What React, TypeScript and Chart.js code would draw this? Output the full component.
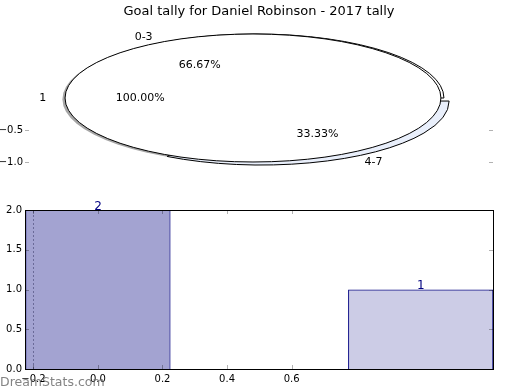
import { useEffect, useRef } from 'react';
import { Chart, registerables } from 'chart.js';

Chart.register(...registerables);

// ---- data ----
const chartTitle = 'Goal tally for Daniel Robinson - 2017 tally';
const pieLabels = ['0-3', '4-7'];
const pieValues = [2, 1];
const pieExplode = [0, 0.055];
const pieColors = ['#ffffff', '#e9effb'];
const totalLabels = ['1'];
const totalValues = [1];
const topYTicks = [-0.5, -1.0];
const barX = [0, 1];
const barValues = [2, 1];
const barAlphas = [0.36, 0.2];
const barXTicks = [-0.2, 0.0, 0.2, 0.4, 0.6];
const barYTicks = [0.0, 0.5, 1.0, 1.5, 2.0];
const watermark = 'DreamStats.com';

// ---- style ----
const FONT = '"DejaVu Sans", sans-serif';
const TICK_COLOR = 'rgba(0,0,0,0.3)';
const fmt = (v: number) => v.toFixed(1).replace('-', '\u2212');
const TOP_X = [-1.213, 1.277];
const TOP_Y = [-1.219, 1.125];
const BAR_XR = [-0.226, 1.224];
const PIE_B_SHIFT = 0.016; // horizontal offset of the two-slice pie

function slices(values: number[]) {
  const total = values.reduce((a, b) => a + b, 0);
  let cum = 0;
  return values.map((v) => {
    const t1 = (cum / total) * Math.PI * 2;
    cum += v;
    const t2 = (cum / total) * Math.PI * 2;
    return { t1, t2, mid: (t1 + t2) / 2, pct: (v / total) * 100 };
  });
}

const piePlugin = {
  id: 'ellipsePie',
  afterDatasetsDraw(chart: any) {
    const { ctx } = chart;
    const xs = chart.scales.x;
    const ys = chart.scales.y;
    const px = (v: number) => xs.getPixelForValue(v);
    const py = (v: number) => ys.getPixelForValue(v);
    const cx = px(0);
    const cy = py(0);
    const rx = px(1) - cx;
    const ry = cy - py(1);

    const wedgePath = (ox: number, oy: number, t1: number, t2: number, full: boolean) => {
      const ccx = px(ox);
      const ccy = py(oy);
      ctx.beginPath();
      if (full) {
        ctx.ellipse(ccx, ccy, rx, ry, 0, 0, Math.PI * 2);
      } else {
        ctx.moveTo(ccx, ccy);
        ctx.ellipse(ccx, ccy, rx, ry, 0, -t1, -t2, true);
        ctx.closePath();
      }
    };

    ctx.save();
    ctx.lineWidth = 1;
    ctx.strokeStyle = '#000';

    // shadow
    wedgePath(-0.014, -0.02, 0, Math.PI * 2, true);
    ctx.fillStyle = 'rgba(0,0,0,0.35)';
    ctx.fill();

    // two-slice pie
    const sl = slices(pieValues);
    for (let i = sl.length - 1; i >= 0; i--) {
      const s = sl[i];
      const e = pieExplode[i];
      const ox = e * Math.cos(s.mid) + PIE_B_SHIFT;
      const oy = e * Math.sin(s.mid);
      wedgePath(ox, oy, s.t1, s.t2, false);
      ctx.fillStyle = pieColors[i];
      ctx.fill();
      ctx.stroke();
    }

    // single-slice pie on top
    const tl = slices(totalValues);
    tl.forEach(() => {
      wedgePath(0, 0, 0, Math.PI * 2, true);
      ctx.fillStyle = '#ffffff';
      ctx.fill();
      ctx.stroke();
    });

    // labels
    ctx.font = `11px ${FONT}`;
    ctx.fillStyle = '#000';
    ctx.textBaseline = 'middle';
    const drawLabels = (labels: string[], ss: any[], explode: number[], shift: number) => {
      ss.forEach((s, i) => {
        const e = explode[i] || 0;
        const c = Math.cos(s.mid);
        const sn = Math.sin(s.mid);
        const lx = px((1.1 + e) * c + shift);
        const ly = py((1.1 + e) * sn);
        ctx.textAlign = c < 0 ? 'right' : 'left';
        ctx.fillText(labels[i], lx, ly);
        ctx.textAlign = 'center';
        ctx.fillText(s.pct.toFixed(2) + '%', px((0.6 + e) * c + shift), py((0.6 + e) * sn));
      });
    };
    drawLabels(pieLabels, sl, pieExplode, PIE_B_SHIFT);
    drawLabels(totalLabels, tl, [], 0);
    ctx.restore();
  },
  afterDraw(chart: any) {
    const { ctx, chartArea } = chart;
    const ys = chart.scales.y;
    ctx.save();
    ctx.font = `13px ${FONT}`;
    ctx.fillStyle = '#000';
    ctx.textAlign = 'center';
    ctx.textBaseline = 'alphabetic';
    ctx.fillText(chartTitle, (chartArea.left + chartArea.right) / 2, 15);
    ctx.strokeStyle = TICK_COLOR;
    ctx.lineWidth = 1;
    const l = Math.round(chartArea.left);
    const r = Math.round(chartArea.right);
    topYTicks.forEach((v) => {
      const y = Math.round(ys.getPixelForValue(v)) + 0.5;
      ctx.beginPath();
      ctx.moveTo(l, y);
      ctx.lineTo(l + 4, y);
      ctx.moveTo(r - 4, y);
      ctx.lineTo(r, y);
      ctx.stroke();
    });
    ctx.restore();
  },
};

const barPlugin = {
  id: 'barDecor',
  beforeDatasetsDraw(chart: any) {
    const { ctx, chartArea } = chart;
    const xs = chart.scales.x;
    ctx.save();
    ctx.strokeStyle = 'rgba(0,0,0,0.35)';
    ctx.setLineDash([2, 2]);
    ctx.lineWidth = 1;
    const x = Math.round(xs.getPixelForValue(barXTicks[0])) + 0.5;
    ctx.beginPath();
    ctx.moveTo(x, chartArea.bottom);
    ctx.lineTo(x, chartArea.top);
    ctx.stroke();
    ctx.restore();
  },
  afterDatasetsDraw(chart: any) {
    const { ctx, chartArea } = chart;
    const xs = chart.scales.x;
    const xb = chart.scales.xb;
    const ys = chart.scales.y;
    const l = Math.round(chartArea.left);
    const r = Math.round(chartArea.right);
    const t = Math.round(chartArea.top);
    const b = Math.round(chartArea.bottom);
    ctx.save();
    ctx.strokeStyle = TICK_COLOR;
    ctx.lineWidth = 1;
    barXTicks.forEach((v) => {
      const x = Math.round(xs.getPixelForValue(v)) + 0.5;
      ctx.beginPath();
      ctx.moveTo(x, b);
      ctx.lineTo(x, b - 4);
      ctx.moveTo(x, t);
      ctx.lineTo(x, t + 4);
      ctx.stroke();
    });
    barYTicks.forEach((v) => {
      const y = Math.round(ys.getPixelForValue(v)) + 0.5;
      ctx.beginPath();
      ctx.moveTo(l, y);
      ctx.lineTo(l + 4, y);
      ctx.moveTo(r - 4, y);
      ctx.lineTo(r, y);
      ctx.stroke();
    });
    ctx.strokeStyle = '#000';
    ctx.strokeRect(l + 0.5, t + 0.5, r - l, b - t);

    ctx.font = `12px ${FONT}`;
    ctx.fillStyle = '#000080';
    ctx.textAlign = 'center';
    ctx.textBaseline = 'alphabetic';
    barX.forEach((xv, i) => {
      ctx.fillText(String(barValues[i]), xb.getPixelForValue(xv), ys.getPixelForValue(barValues[i]) - 0.5);
    });
    ctx.restore();
  },
  afterDraw(chart: any) {
    const { ctx } = chart;
    ctx.save();
    ctx.font = `12.5px ${FONT}`;
    ctx.fillStyle = 'rgba(100,100,100,0.8)';
    ctx.textAlign = 'left';
    ctx.textBaseline = 'middle';
    ctx.fillText(watermark, 0, chart.height - 7.5);
    ctx.restore();
  },
};

const noGrid = { display: false, drawTicks: false, tickLength: 0 };

export default function App() {
  const topRef = useRef<HTMLCanvasElement>(null);
  const botRef = useRef<HTMLCanvasElement>(null);

  useEffect(() => {
    const tickFont = { family: FONT, size: 10 };
    const top = new Chart(topRef.current as HTMLCanvasElement, {
      type: 'scatter',
      data: { datasets: [{ data: [] }] },
      options: {
        responsive: false,
        animation: false,
        events: [],
        layout: { padding: { top: 26, bottom: 14, left: 0, right: 27 } },
        plugins: { legend: { display: false }, tooltip: { enabled: false }, title: { display: false } },
        scales: {
          x: { type: 'linear', display: false, min: TOP_X[0], max: TOP_X[1] },
          y: {
            type: 'linear',
            min: TOP_Y[0],
            max: TOP_Y[1],
            grid: noGrid,
            border: { display: false },
            afterBuildTicks: (s: any) => {
              s.ticks = topYTicks.map((v) => ({ value: v }));
            },
            afterFit: (s: any) => {
              s.width = 25;
            },
            ticks: { color: '#000', font: tickFont, padding: 2, callback: (v: any) => fmt(Number(v)) },
          },
        },
      } as any,
      plugins: [piePlugin],
    });

    const bot = new Chart(botRef.current as HTMLCanvasElement, {
      type: 'bar',
      data: {
        datasets: [
          {
            data: barX.map((x, i) => ({ x, y: barValues[i] })),
            xAxisID: 'xb',
            yAxisID: 'y',
            backgroundColor: barAlphas.map((a) => `rgba(0,0,128,${a})`),
            borderColor: '#000080',
            borderWidth: 1,
            barPercentage: 0.45,
            categoryPercentage: 1,
          },
        ],
      },
      options: {
        responsive: false,
        animation: false,
        events: [],
        layout: { padding: { top: 20, right: 27, left: 0, bottom: 0 } },
        plugins: { legend: { display: false }, tooltip: { enabled: false } },
        scales: {
          xb: {
            type: 'linear',
            axis: 'x',
            position: 'bottom',
            display: false,
            offset: false,
            min: BAR_XR[0],
            max: BAR_XR[1],
            afterBuildTicks: (s: any) => {
              s.ticks = barX.map((v) => ({ value: v }));
            },
          },
          x: {
            type: 'linear',
            axis: 'x',
            position: 'bottom',
            offset: false,
            min: BAR_XR[0],
            max: BAR_XR[1],
            grid: noGrid,
            border: { display: false },
            afterBuildTicks: (s: any) => {
              s.ticks = barXTicks.map((v) => ({ value: v }));
            },
            afterFit: (s: any) => {
              s.height = 21;
            },
            ticks: {
              color: '#000',
              font: tickFont,
              padding: 4,
              maxRotation: 0,
              autoSkip: false,
              callback: (v: any) => fmt(Number(v)),
            },
          },
          y: {
            type: 'linear',
            min: 0,
            max: 2,
            grid: noGrid,
            border: { display: false },
            afterBuildTicks: (s: any) => {
              s.ticks = barYTicks.map((v) => ({ value: v }));
            },
            afterFit: (s: any) => {
              s.width = 25;
            },
            ticks: { color: '#000', font: tickFont, padding: 3, callback: (v: any) => fmt(Number(v)) },
          },
        },
      } as any,
      plugins: [barPlugin],
    });

    return () => {
      top.destroy();
      bot.destroy();
    };
  }, []);

  return (
    <div style={{ position: 'absolute', left: 0, top: 0, width: 520, height: 390, background: '#fff' }}>
      <canvas ref={topRef} width={520} height={190} style={{ position: 'absolute', left: 0, top: 0 }} />
      <canvas ref={botRef} width={520} height={200} style={{ position: 'absolute', left: 0, top: 190 }} />
    </div>
  );
}
